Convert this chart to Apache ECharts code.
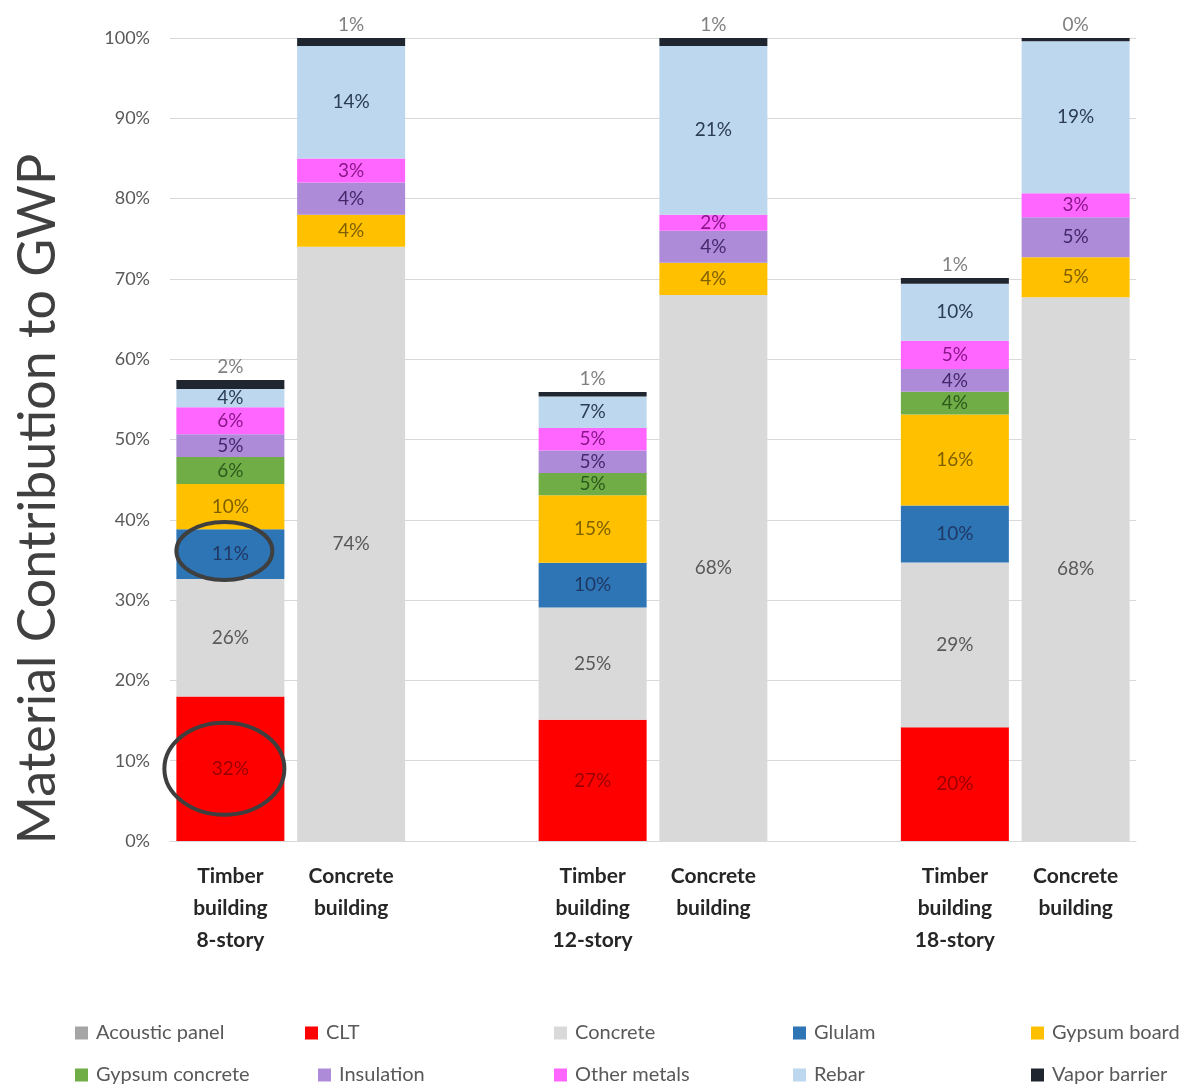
<!DOCTYPE html>
<html>
<head>
<meta charset="utf-8">
<script src="https://cdn.jsdelivr.net/npm/echarts@6/dist/echarts.min.js"></script>
<style>
  html, body { margin: 0; padding: 0; background: #ffffff; }
  #chart { width: 1190px; height: 1087px; }
</style>
</head>
<body>
<div id="chart"></div>
<script>
// Category slots: empty strings are spacer slots between building pairs
const categories = [
  'Timber\nbuilding\n8-story', 'Concrete\nbuilding', '',
  'Timber\nbuilding\n12-story', 'Concrete\nbuilding', '',
  'Timber\nbuilding\n18-story', 'Concrete\nbuilding'
];

// Total GWP of each building, relative to its concrete counterpart (%)
const buildingTotals = [57.4, 100, null, 55.9, 100, null, 70.1, 100];

// Material shares of each building's own total (%), as labelled
const materials = ['Acoustic panel', 'CLT', 'Concrete', 'Glulam', 'Gypsum board',
  'Gypsum concrete', 'Insulation', 'Other metals', 'Rebar', 'Vapor barrier'];
const acousticPanel  = [0, 0, null, 0, 0, null, 0, 0];
const clt            = [32, 0, null, 27, 0, null, 20, 0];
const concrete       = [26, 74, null, 25, 68, null, 29, 68];
const glulam         = [11, 0, null, 10, 0, null, 10, 0];
const gypsumBoard    = [10, 4, null, 15, 4, null, 16, 5];
const gypsumConcrete = [6, 0, null, 5, 0, null, 4, 0];
const insulation     = [5, 4, null, 5, 4, null, 4, 5];
const otherMetals    = [6, 3, null, 5, 2, null, 5, 3];
const rebar          = [4, 14, null, 7, 21, null, 10, 19];
const vaporBarrier   = [2, 1, null, 1, 1, null, 1, 0.4];

const yTicks = [0, 10, 20, 30, 40, 50, 60, 70, 80, 90, 100];

const shareSets = [acousticPanel, clt, concrete, glulam, gypsumBoard,
  gypsumConcrete, insulation, otherMetals, rebar, vaporBarrier];

const colors = ['#a5a5a5', '#ff0000', '#d9d9d9', '#2e75b6', '#ffc000',
  '#70ad47', '#ad8bd8', '#ff66ff', '#bdd7ee', '#1f2630'];
const labelColors = ['#404040', '#9a0000', '#595959', '#1f3864', '#7f6000',
  '#2d5a1c', '#43286a', '#8a168a', '#2b3d52', '#808080'];

const FONT = 'Lato';

// Sum of the labelled shares per building, used to scale each share to its bar
const shareSums = categories.map((_, i) =>
  shareSets.reduce((s, arr) => s + (arr[i] == null ? 0 : arr[i]), 0));

function heightOf(share, i) {
  if (share == null) return null;
  return buildingTotals[i] * share / shareSums[i];
}

const series = materials.map((name, k) => ({
  name: name,
  type: 'bar',
  stack: 'gwp',
  barWidth: 108,
  itemStyle: { color: colors[k] },
  label: {
    show: true,
    position: k === materials.length - 1 ? 'top' : 'inside',
    distance: 4,
    fontFamily: FONT,
    fontSize: 19,
    color: labelColors[k],
    formatter: p => (p.data && p.data.share) ? Math.round(p.data.share) + '%' : ''
  },
  data: shareSets[k].map((s, i) => s == null ? null : { value: heightOf(s, i), share: s })
}));

// Legend laid out as a 5-column, 2-row grid: one legend component per entry
const legendLeft = [75, 305, 554, 793, 1031, 75, 318, 554, 793, 1031];
const legends = materials.map((name, k) => ({
  data: [name],
  left: legendLeft[k],
  top: k < 5 ? 1023 : 1065,
  padding: 0,
  icon: 'rect',
  itemWidth: 13,
  itemHeight: 13,
  itemGap: 0,
  textStyle: { fontFamily: FONT, fontSize: 20, color: '#595959', padding: [0, 0, 0, 3] }
}));

const chart = echarts.init(document.getElementById('chart'), null, { renderer: 'canvas' });

chart.setOption({
  backgroundColor: '#ffffff',
  animation: false,
  color: colors,
  grid: { left: 170, right: 54, top: 38, bottom: 246, containLabel: false },
  xAxis: {
    type: 'category',
    data: categories,
    axisTick: { show: false },
    axisLine: { show: true, lineStyle: { color: '#d9d9d9', width: 1 } },
    axisLabel: {
      interval: 0,
      margin: 19,
      fontFamily: FONT,
      fontSize: 21,
      fontWeight: 'bold',
      lineHeight: 32,
      color: '#262626'
    }
  },
  yAxis: {
    type: 'value',
    min: 0,
    max: 100,
    interval: 10,
    axisLine: { show: false },
    axisTick: { show: false },
    splitLine: { lineStyle: { color: '#d9d9d9', width: 1 } },
    axisLabel: {
      margin: 20,
      fontFamily: FONT,
      fontSize: 18,
      color: '#595959',
      formatter: v => yTicks.indexOf(v) >= 0 ? v + '%' : ''
    }
  },
  legend: legends,
  graphic: [
    {
      id: 'ytitle',
      type: 'text',
      x: 38, y: 499,
      rotation: Math.PI / 2,
      style: {
        text: 'Material Contribution to GWP',
        fontFamily: FONT,
        fontSize: 52,
        fill: '#404040',
        align: 'center',
        verticalAlign: 'middle'
      }
    }
  ],
  series: series
});

// Highlight rings around the CLT and Glulam segments of the 8-story timber building
const t8 = 0;
const cltTop = heightOf(clt[t8], t8);
const concreteTop = cltTop + heightOf(concrete[t8], t8);
const glulamTop = concreteTop + heightOf(glulam[t8], t8);
const cltCenter = chart.convertToPixel({ xAxisIndex: 0, yAxisIndex: 0 }, [t8, cltTop / 2]);
const glulamCenter = chart.convertToPixel({ xAxisIndex: 0, yAxisIndex: 0 }, [t8, (concreteTop + glulamTop) / 2]);

chart.setOption({
  graphic: [
    {
      id: 'ringGlulam',
      type: 'ellipse',
      shape: { cx: glulamCenter[0] - 6, cy: glulamCenter[1] - 3, rx: 48, ry: 29 },
      style: { fill: 'none', stroke: '#3f3f3f', lineWidth: 4 },
      z: 100
    },
    {
      id: 'ringClt',
      type: 'ellipse',
      shape: { cx: cltCenter[0] - 6, cy: cltCenter[1], rx: 60, ry: 46 },
      style: { fill: 'none', stroke: '#3f3f3f', lineWidth: 4 },
      z: 100
    }
  ]
});
</script>
</body>
</html>
